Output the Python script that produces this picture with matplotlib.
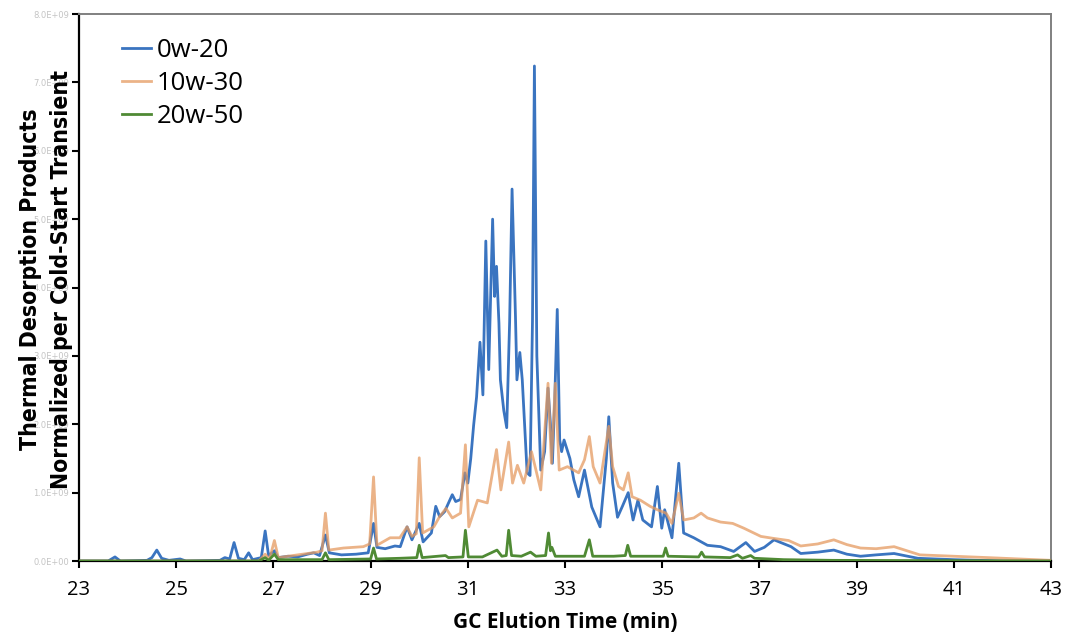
import matplotlib
matplotlib.use("Agg")
import matplotlib.pyplot as plt
from matplotlib.ticker import FuncFormatter

# GC elution time (min) and signal (units of 1E+09)
t_0w20 = [23.0, 23.6, 23.74, 23.85, 24.4, 24.5, 24.6, 24.7, 24.85, 25.08, 25.2, 25.9, 26.0, 26.1,
          26.19, 26.28, 26.4, 26.49, 26.57, 26.75, 26.83, 26.9, 27.02, 27.1, 27.3, 27.5, 27.7,
          27.83, 27.95, 28.07, 28.15, 28.4, 28.7, 28.95, 29.06, 29.13, 29.3, 29.5, 29.61, 29.75,
          29.85, 30.0, 30.08, 30.25, 30.34, 30.42, 30.52, 30.68, 30.75, 30.85, 30.94, 31.0, 31.06,
          31.12, 31.18, 31.25, 31.31, 31.37, 31.43, 31.51, 31.55, 31.59, 31.64, 31.67, 31.74, 31.8,
          31.86, 31.91, 31.98, 32.01, 32.07, 32.12, 32.22, 32.28, 32.33, 32.37, 32.42, 32.5, 32.58,
          32.65, 32.7, 32.74, 32.79, 32.84, 32.89, 32.93, 32.98, 33.1, 33.18, 33.28, 33.4, 33.55,
          33.72, 33.85, 33.9, 33.98, 34.08, 34.18, 34.3, 34.4, 34.5, 34.6, 34.78, 34.9, 34.99,
          35.05, 35.2, 35.34, 35.44, 35.65, 35.93, 36.2, 36.47, 36.72, 36.9, 37.1, 37.3, 37.65,
          37.85, 38.2, 38.53, 38.8, 39.08, 39.4, 39.77, 40.26, 41.0, 42.0, 43.0]
v_0w20 = [0.0, 0.0, 0.06, 0.0, 0.01, 0.05, 0.16, 0.04, 0.01, 0.03, 0.0, 0.01, 0.05, 0.03,
          0.27, 0.04, 0.02, 0.12, 0.02, 0.05, 0.44, 0.08, 0.15, 0.05, 0.07, 0.06, 0.1,
          0.12, 0.08, 0.38, 0.12, 0.09, 0.1, 0.12, 0.55, 0.2, 0.18, 0.22, 0.21, 0.5,
          0.31, 0.55, 0.28, 0.41, 0.8, 0.65, 0.72, 0.97, 0.87, 0.9, 1.29, 1.14, 1.5,
          1.99, 2.4, 3.2, 2.43, 4.68, 2.8, 5.0, 3.87, 4.31, 3.48, 2.65, 2.2, 1.95,
          3.5, 5.44, 3.58, 2.65, 3.05, 2.65, 1.29, 1.25, 3.5, 7.24, 3.0, 1.33, 1.6,
          2.53, 2.0, 1.43, 2.4, 3.68, 1.77, 1.6, 1.77, 1.5, 1.19, 0.94, 1.33, 0.79,
          0.5, 1.5, 2.11, 1.14, 0.64, 0.8, 1.0, 0.6, 0.89, 0.6, 0.5, 1.09, 0.48,
          0.75, 0.34, 1.43, 0.41, 0.34, 0.23, 0.21, 0.14, 0.27, 0.14, 0.2, 0.31, 0.21,
          0.11, 0.13, 0.16, 0.1, 0.07, 0.09, 0.11, 0.04, 0.02, 0.0, 0.0]

t_10w30 = [23.0, 26.7, 26.83, 26.92, 27.02, 27.1, 27.3, 27.6, 27.9, 28.0, 28.07, 28.14, 28.44,
           28.85, 28.98, 29.06, 29.13, 29.4, 29.6, 29.75, 29.85, 29.94, 30.0, 30.07, 30.3, 30.42,
           30.55, 30.68, 30.85, 30.95, 31.02, 31.2, 31.4, 31.59, 31.68, 31.84, 31.92, 32.02, 32.15,
           32.31, 32.5, 32.65, 32.72, 32.8, 32.88, 33.05, 33.28, 33.4, 33.5, 33.58, 33.72, 33.9,
           33.98, 34.1, 34.2, 34.3, 34.38, 34.55, 34.75, 34.9, 35.08, 35.2, 35.34, 35.44, 35.65,
           35.8, 35.93, 36.2, 36.45, 36.68, 37.03, 37.3, 37.6, 37.85, 38.2, 38.53, 38.8, 39.08,
           39.4, 39.77, 40.3, 41.0, 41.7, 43.0]
v_10w30 = [0.0, 0.0, 0.1, 0.03, 0.3, 0.05, 0.07, 0.1, 0.13, 0.15, 0.7, 0.16, 0.19,
           0.21, 0.25, 1.23, 0.23, 0.34, 0.34, 0.5, 0.36, 0.4, 1.51, 0.41, 0.5, 0.65,
           0.77, 0.63, 0.7, 1.7, 0.5, 0.89, 0.85, 1.63, 1.04, 1.74, 1.14, 1.4, 1.14,
           1.6, 1.04, 2.6, 1.43, 2.6, 1.33, 1.38, 1.29, 1.48, 1.82, 1.38, 1.14, 1.97,
           1.38, 1.09, 1.04, 1.29, 0.94, 0.89, 0.8, 0.75, 0.7, 0.55, 0.99, 0.6, 0.63,
           0.7, 0.63, 0.57, 0.55, 0.48, 0.36, 0.33, 0.3, 0.22, 0.25, 0.31, 0.24, 0.19,
           0.18, 0.21, 0.09, 0.07, 0.05, 0.01]

t_20w50 = [23.0, 26.7, 26.83, 26.9, 27.02, 27.1, 28.0, 28.07, 28.14, 29.0, 29.06, 29.12, 29.6,
           29.95, 30.0, 30.06, 30.54, 30.6, 30.9, 30.95, 31.01, 31.3, 31.6, 31.7, 31.79, 31.84,
           31.9, 32.1, 32.29, 32.4, 32.6, 32.66, 32.7, 32.73, 32.8, 33.4, 33.5, 33.57, 34.0,
           34.24, 34.29, 34.35, 34.7, 35.02, 35.07, 35.12, 35.75, 35.81, 35.87, 36.4, 36.55,
           36.65, 36.82, 36.9, 37.5, 38.5, 43.0]
v_20w50 = [0.0, 0.0, 0.05, 0.01, 0.1, 0.02, 0.02, 0.12, 0.02, 0.03, 0.19, 0.03, 0.04,
           0.05, 0.23, 0.05, 0.08, 0.05, 0.06, 0.45, 0.06, 0.06, 0.16, 0.07, 0.08, 0.45,
           0.08, 0.07, 0.13, 0.07, 0.08, 0.41, 0.15, 0.2, 0.07, 0.07, 0.31, 0.07, 0.07,
           0.08, 0.23, 0.07, 0.07, 0.07, 0.19, 0.07, 0.06, 0.13, 0.06, 0.05, 0.09,
           0.04, 0.08, 0.04, 0.02, 0.01, 0.0]

x_ticks = list(range(23, 44, 2))
y_ticks = [i * 1e9 for i in range(0, 9)]

fig = plt.figure(figsize=(10.65, 6.32), dpi=100)
ax = fig.add_axes([0.0742, 0.1123, 0.9127, 0.8655])

ax.plot(t_0w20, [v * 1e9 for v in v_0w20], color="#3a74c0", lw=2.0, label="0w-20", zorder=2)
ax.plot(t_10w30, [v * 1e9 for v in v_10w30], color="#e59a60", lw=2.0, alpha=0.75,
        label="10w-30", zorder=3)
ax.plot(t_20w50, [v * 1e9 for v in v_20w50], color="#4f8a34", lw=2.0, label="20w-50", zorder=4)

ax.set_xlim(23, 43)
ax.set_ylim(0, 8e9)
ax.set_xticks(x_ticks)
ax.set_yticks(y_ticks)
ax.yaxis.set_major_formatter(FuncFormatter(lambda v, p: "{:.1E}".format(v)))
ax.tick_params(axis="x", direction="out", length=5, width=1.5, labelsize=14.5, pad=9)
ax.tick_params(axis="y", direction="out", length=5, width=1.5, labelsize=6,
               labelcolor="#c4c4c4", pad=2)
for lab in ax.get_xticklabels():
    lab.set_fontfamily(["Open Sans", "DejaVu Sans"])

ax.spines["left"].set_linewidth(1.6)
ax.spines["bottom"].set_linewidth(1.6)
ax.spines["top"].set_color("#808080")
ax.spines["right"].set_color("#808080")
ax.spines["top"].set_linewidth(1.4)
ax.spines["right"].set_linewidth(1.4)

ax.set_xlabel("GC Elution Time (min)", fontsize=15, fontweight="bold",
              family=["Open Sans", "DejaVu Sans"], labelpad=8)
ax.set_ylabel("Thermal Desorption Products\nNormalized per Cold-Start Transient", fontsize=16.5,
              fontweight="bold", family="DejaVu Sans", fontstretch="condensed",
              linespacing=1.45)
ax.yaxis.set_label_coords(-0.006, 0.515)

leg = ax.legend(loc="upper left", bbox_to_anchor=(0.02, 0.998), frameon=False,
                prop={"family": ["Open Sans", "DejaVu Sans"], "size": 18.5},
                handlelength=1.15, handletextpad=0.2, labelspacing=0.3)
for h in leg.get_lines():
    h.set_linewidth(2.0)

fig.savefig("out.png", dpi=100)
